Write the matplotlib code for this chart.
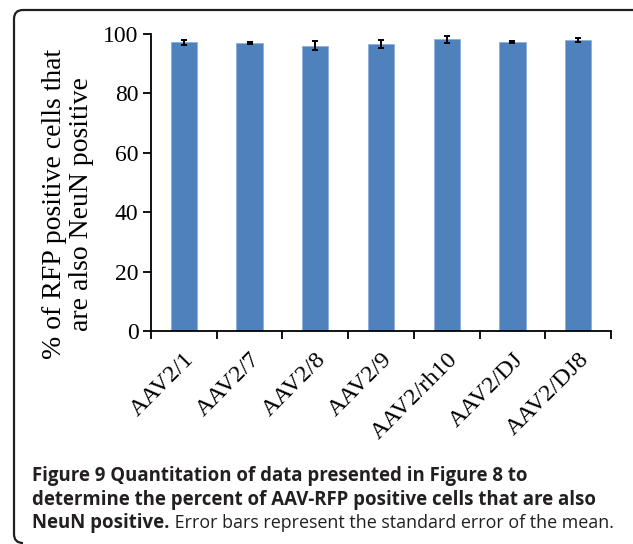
import matplotlib
matplotlib.use("Agg")
import matplotlib.pyplot as plt
from matplotlib.path import Path
from matplotlib.patches import PathPatch

# data
labels = ["AAV2/1", "AAV2/7", "AAV2/8", "AAV2/9", "AAV2/rh10", "AAV2/DJ", "AAV2/DJ8"]
values = [97.2, 97.0, 96.1, 96.7, 98.2, 97.4, 98.0]
errors = [0.8, 0.4, 1.6, 1.4, 1.1, 0.4, 0.6]

ylabel = "% of RFP positive cells that\nare also NeuN positive"
cap_bold1 = "Figure 9 Quantitation of data presented in Figure 8 to"
cap_bold2 = "determine the percent of AAV-RFP positive cells that are also"
cap_bold3 = "NeuN positive."
cap_reg3 = " Error bars represent the standard error of the mean."

W, H = 633, 544
fig = plt.figure(figsize=(W / 100, H / 100), dpi=100)

# frame: rounded left corners, top line running off the right edge
def fp(px, py):
    return (px / W, 1 - py / H)

r = 9
verts = [fp(14 + r, 543), fp(14, 543), fp(14, 543 - r),
         fp(14, 10 + r), fp(14, 10), fp(14 + r, 10), fp(W + 5, 10)]
codes = [Path.MOVETO, Path.CURVE3, Path.CURVE3,
         Path.LINETO, Path.CURVE3, Path.CURVE3, Path.LINETO]
fig.patches.append(PathPatch(Path(verts, codes), transform=fig.transFigure,
                             fill=False, edgecolor="#231f20", linewidth=1.6))

ax = fig.add_axes([151 / W, (H - 331) / H, 460 / W, 297 / H])
x = [i + 0.5 for i in range(len(labels))]
ax.bar(x, values, width=0.4, color="#4f81bd", edgecolor="#8eaedb", linewidth=0.6,
       yerr=errors, error_kw=dict(ecolor="black", elinewidth=1.4, capsize=2, capthick=1.4))

ax.set_xlim(0, len(labels))
ax.set_ylim(0, 100)
ax.set_yticks([0, 20, 40, 60, 80, 100])
ax.set_xticks(range(len(labels) + 1))
ax.set_xticklabels([])
ax.set_xticks(x, minor=True)
ax.set_xticklabels(labels, minor=True, rotation=45, ha="right", rotation_mode="anchor",
                   family="Liberation Serif", fontsize=17.5)
ax.tick_params(axis="x", which="minor", length=0, pad=13)
ax.tick_params(axis="x", which="major", length=6, width=1.3, direction="out")
ax.tick_params(axis="y", length=6, width=1.3, direction="out", labelsize=17, pad=3)
for t in ax.get_yticklabels():
    t.set_family("Liberation Serif")
for s in ["top", "right"]:
    ax.spines[s].set_visible(False)
for s in ["left", "bottom"]:
    ax.spines[s].set_linewidth(1.3)

# y label sits a bit lower than the axis centre in the original
fig.text(68 / W, 1 - 204 / H, ylabel, rotation=90, ha="center", va="center",
         multialignment="center", family="Liberation Serif", fontsize=20, linespacing=1.12)

# caption
cap_kw = dict(family="Open Sans", color="#231f20", va="baseline")
fig.text(32 / W, 1 - 481 / H, cap_bold1, fontweight="bold", fontsize=13.4, **cap_kw)
fig.text(32 / W, 1 - 504.5 / H, cap_bold2, fontweight="bold", fontsize=13.4, **cap_kw)
tb = fig.text(32 / W, 1 - 528 / H, cap_bold3, fontweight="bold", fontsize=13.4, **cap_kw)
rend = fig.canvas.get_renderer()
bb = tb.get_window_extent(renderer=rend)
fig.text(bb.x1 / W, 1 - 528 / H, cap_reg3, fontsize=12.9, **cap_kw)

fig.savefig("out.png", dpi=100)
